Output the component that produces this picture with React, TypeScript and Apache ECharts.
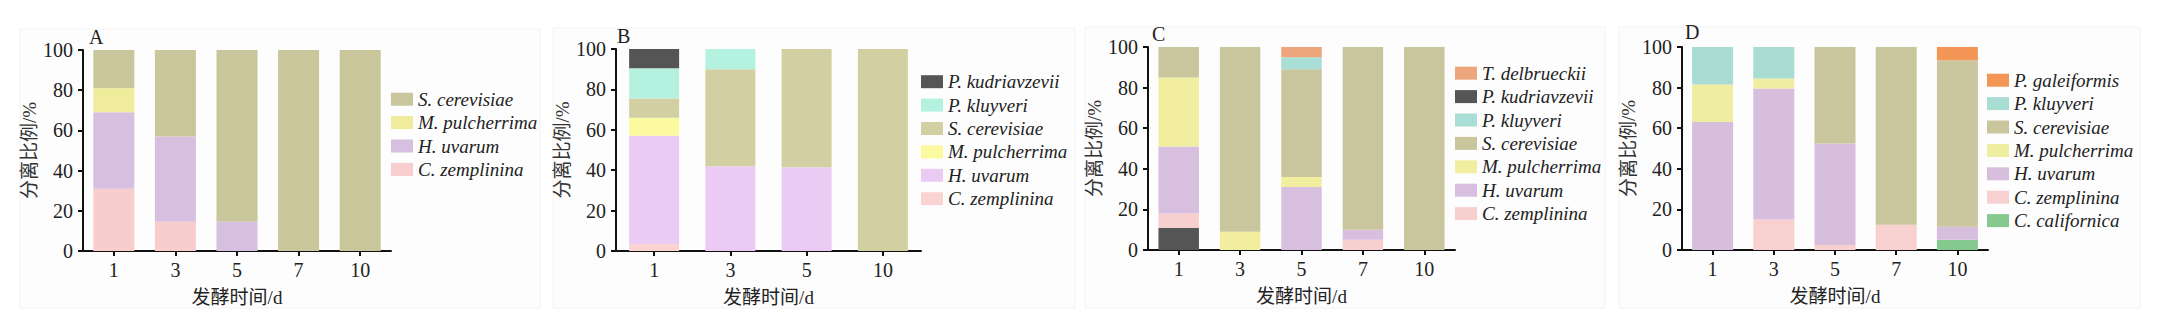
import React, { useEffect, useRef } from "react";
import * as echarts from "echarts";

// ---------- data ----------
const daysA = ["1", "3", "5", "7", "10"];
const daysB = ["1", "3", "5", "10"];
const daysC = ["1", "3", "5", "7", "10"];
const daysD = ["1", "3", "5", "7", "10"];

// Panel A (stack order bottom -> top)
const A_zemplinina = [31, 14.5, 0, 0, 0];
const A_uvarum = [38, 42.5, 14.5, 0, 0];
const A_pulcherrima = [12, 0, 0, 0, 0];
const A_cerevisiae = [19, 43, 85.5, 100, 100];

// Panel B
const B_zemplinina = [3.5, 0, 0, 0];
const B_uvarum = [53.5, 42, 41.5, 0];
const B_pulcherrima = [9, 0, 0, 0];
const B_cerevisiae = [9.5, 48, 58.5, 100];
const B_kluyveri = [15, 10, 0, 0];
const B_kudriavzevii = [9.5, 0, 0, 0];

// Panel C
const C_kudriavzevii = [11, 0, 0, 0, 0];
const C_zemplinina = [7, 0, 0, 5, 0];
const C_uvarum = [33, 0, 31, 5, 0];
const C_pulcherrima = [34, 9, 5, 0, 0];
const C_cerevisiae = [15, 91, 53, 90, 100];
const C_kluyveri = [0, 0, 6, 0, 0];
const C_delbrueckii = [0, 0, 5, 0, 0];

// Panel D
const D_californica = [0, 0, 0, 0, 5];
const D_zemplinina = [0, 15, 2.5, 12.5, 0];
const D_uvarum = [63, 64.5, 50, 0, 6.5];
const D_pulcherrima = [18.5, 5, 0, 0, 0];
const D_cerevisiae = [0, 0, 47.5, 87.5, 82];
const D_kluyveri = [18.5, 15.5, 0, 0, 0];
const D_galeiformis = [0, 0, 0, 0, 6.5];

const yTickValues = [0, 20, 40, 60, 80, 100];
const xName = "发酵时间/d";
const yName = "分离比例/%";

// ---------- panel configs ----------
type Sp = { name: string; color: string; data: number[] };
type Panel = {
  key: string;
  cats: string[];
  grid: { left: number; top: number; width: number; height: number };
  barWidth: number;
  stack: Sp[];
  legendOrder: string[];
  legend: { left: number; top: number };
  title: { left: number; top: number };
  bg: { x: number; y: number; w: number; h: number };
};

const panels: Panel[] = [
  {
    key: "A",
    cats: daysA,
    grid: { left: 83, top: 50, width: 308, height: 201 },
    barWidth: 41,
    stack: [
      { name: "C. zemplinina", color: "#f8cdcd", data: A_zemplinina },
      { name: "H. uvarum", color: "#d7bfdf", data: A_uvarum },
      { name: "M. pulcherrima", color: "#efec9c", data: A_pulcherrima },
      { name: "S. cerevisiae", color: "#c9c69c", data: A_cerevisiae },
    ],
    legendOrder: ["S. cerevisiae", "M. pulcherrima", "H. uvarum", "C. zemplinina"],
    legend: { left: 391, top: 87.5 },
    title: { left: 89, top: 27 },
    bg: { x: 20, y: 29, w: 520, h: 279 },
  },
  {
    key: "B",
    cats: daysB,
    grid: { left: 616, top: 49, width: 305, height: 202 },
    barWidth: 50,
    stack: [
      { name: "C. zemplinina", color: "#fbd3d3", data: B_zemplinina },
      { name: "H. uvarum", color: "#ebcbf3", data: B_uvarum },
      { name: "M. pulcherrima", color: "#fcfa9e", data: B_pulcherrima },
      { name: "S. cerevisiae", color: "#d2d0a2", data: B_cerevisiae },
      { name: "P. kluyveri", color: "#b4f2df", data: B_kluyveri },
      { name: "P. kudriavzevii", color: "#555555", data: B_kudriavzevii },
    ],
    legendOrder: [
      "P. kudriavzevii",
      "P. kluyveri",
      "S. cerevisiae",
      "M. pulcherrima",
      "H. uvarum",
      "C. zemplinina",
    ],
    legend: { left: 921, top: 70 },
    title: { left: 617, top: 26 },
    bg: { x: 553, y: 28, w: 522, h: 280 },
  },
  {
    key: "C",
    cats: daysC,
    grid: { left: 1148, top: 47, width: 307, height: 203 },
    barWidth: 40.5,
    stack: [
      { name: "P. kudriavzevii", color: "#555555", data: C_kudriavzevii },
      { name: "C. zemplinina", color: "#f8cfcf", data: C_zemplinina },
      { name: "H. uvarum", color: "#d8bfe0", data: C_uvarum },
      { name: "M. pulcherrima", color: "#f1ef9f", data: C_pulcherrima },
      { name: "S. cerevisiae", color: "#c9c69d", data: C_cerevisiae },
      { name: "P. kluyveri", color: "#a8ded5", data: C_kluyveri },
      { name: "T. delbrueckii", color: "#eda57c", data: C_delbrueckii },
    ],
    legendOrder: [
      "T. delbrueckii",
      "P. kudriavzevii",
      "P. kluyveri",
      "S. cerevisiae",
      "M. pulcherrima",
      "H. uvarum",
      "C. zemplinina",
    ],
    legend: { left: 1455, top: 61.5 },
    title: { left: 1152, top: 24 },
    bg: { x: 1085, y: 27, w: 520, h: 281 },
  },
  {
    key: "D",
    cats: daysD,
    grid: { left: 1682, top: 47, width: 306, height: 203 },
    barWidth: 41,
    stack: [
      { name: "C. californica", color: "#86c98f", data: D_californica },
      { name: "C. zemplinina", color: "#f8d0d0", data: D_zemplinina },
      { name: "H. uvarum", color: "#d8bedd", data: D_uvarum },
      { name: "M. pulcherrima", color: "#efed9f", data: D_pulcherrima },
      { name: "S. cerevisiae", color: "#c9c69d", data: D_cerevisiae },
      { name: "P. kluyveri", color: "#a9dcd3", data: D_kluyveri },
      { name: "P. galeiformis", color: "#f39655", data: D_galeiformis },
    ],
    legendOrder: [
      "P. galeiformis",
      "P. kluyveri",
      "S. cerevisiae",
      "M. pulcherrima",
      "H. uvarum",
      "C. zemplinina",
      "C. californica",
    ],
    legend: { left: 1987, top: 68.5 },
    title: { left: 1685, top: 22 },
    bg: { x: 1619, y: 27, w: 521, h: 281 },
  },
];

const SERIF = "'Liberation Serif', 'Times New Roman', 'Noto Sans CJK SC', serif";
const TXT = "#222";

function buildOption() {
  const grid: any[] = [];
  const xAxis: any[] = [];
  const yAxis: any[] = [];
  const series: any[] = [];
  const legend: any[] = [];
  const title: any[] = [];
  const graphic: any[] = [];

  panels.forEach((p, i) => {
    graphic.push({
      type: "rect",
      z: -10,
      shape: { x: p.bg.x, y: p.bg.y, width: p.bg.w, height: p.bg.h },
      style: { fill: "#fdfdfd", stroke: "#f2f2f2", lineWidth: 1 },
    });
    grid.push({ ...p.grid, containLabel: false });
    xAxis.push({
      type: "category",
      gridIndex: i,
      data: p.cats,
      axisLine: { show: true, lineStyle: { color: "#111", width: 2 } },
      axisTick: { show: true, alignWithLabel: true, length: 5, lineStyle: { color: "#111", width: 2 } },
      axisLabel: { fontFamily: SERIF, fontSize: 20, color: TXT, margin: 9 },
      name: xName,
      nameLocation: "middle",
      nameGap: 37,
      nameTextStyle: { fontFamily: SERIF, fontSize: 19, color: TXT },
    });
    yAxis.push({
      type: "value",
      gridIndex: i,
      min: 0,
      max: 100,
      interval: 20,
      axisLine: { show: true, lineStyle: { color: "#111", width: 2 } },
      axisTick: { show: true, length: 5, lineStyle: { color: "#111", width: 2 } },
      splitLine: { show: false },
      axisLabel: {
        fontFamily: SERIF,
        fontSize: 20,
        color: TXT,
        margin: 10,
        formatter: (v: number) => (yTickValues.includes(v) ? String(v) : ""),
      },
      name: yName,
      nameLocation: "middle",
      nameGap: 44,
      nameTextStyle: { fontFamily: SERIF, fontSize: 19, color: "#333" },
    });
    p.stack.forEach((s) => {
      series.push({
        type: "bar",
        name: `${s.name}|${p.key}`,
        xAxisIndex: i,
        yAxisIndex: i,
        stack: `stack${p.key}`,
        barWidth: p.barWidth,
        itemStyle: { color: s.color },
        data: s.data,
      });
    });
    legend.push({
      orient: "vertical",
      left: p.legend.left,
      top: p.legend.top,
      padding: 0,
      itemGap: 0,
      itemWidth: 22,
      itemHeight: 13,
      icon: "rect",
      selectedMode: false,
      data: p.legendOrder.map((n) => `${n}|${p.key}`),
      formatter: (n: string) => n.split("|")[0],
      textStyle: {
        fontFamily: SERIF,
        fontStyle: "italic",
        fontSize: 19,
        color: TXT,
        lineHeight: 23.4,
      },
    });
    title.push({
      text: p.key,
      left: p.title.left,
      top: p.title.top,
      padding: 0,
      textStyle: { fontFamily: SERIF, fontSize: 20, fontWeight: "normal", color: TXT },
    });
  });

  return {
    animation: false,
    backgroundColor: "#ffffff",
    grid,
    xAxis,
    yAxis,
    series,
    legend,
    title,
    graphic,
  };
}

export default function App() {
  const ref = useRef<HTMLDivElement>(null);
  useEffect(() => {
    if (!ref.current) return;
    const chart = echarts.init(ref.current, undefined, { renderer: "svg" });
    chart.setOption(buildOption() as any);
    return () => chart.dispose();
  }, []);
  return (
    <div
      ref={ref}
      style={{ position: "fixed", left: 0, top: 0, width: 2159, height: 329 }}
    />
  );
}
